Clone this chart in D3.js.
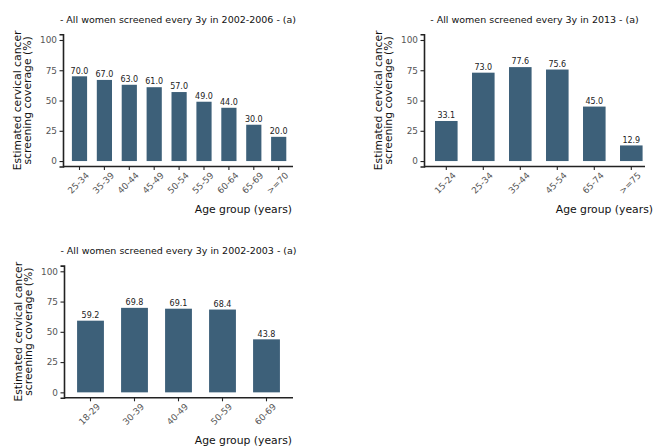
<!DOCTYPE html>
<html><head><meta charset="utf-8">
<script src="https://cdn.jsdelivr.net/npm/d3@7"></script>
<style>
body{margin:0;background:#fff;}
text{font-family:"DejaVu Sans",sans-serif;}
</style></head>
<body>
<svg id="c" width="653" height="446"></svg>
<script>
const titles = [
  "- All women screened every 3y in 2002-2006 - (a)",
  "- All women screened every 3y in 2013 - (a)",
  "- All women screened every 3y in 2002-2003 - (a)"
];
const categories1 = ["25-34","35-39","40-44","45-49","50-54","55-59","60-64","65-69",">=70"];
const values1 = [70.0,67.0,63.0,61.0,57.0,49.0,44.0,30.0,20.0];
const categories2 = ["15-24","25-34","35-44","45-54","65-74",">=75"];
const values2 = [33.1,73.0,77.6,75.6,45.0,12.9];
const categories3 = ["18-29","30-39","40-49","50-59","60-69"];
const values3 = [59.2,69.8,69.1,68.4,43.8];
const yTicks = [0,25,50,75,100];
const yLabelLines = ["Estimated cervical cancer","screening coverage (%)"];
const xLabel = "Age group (years)";

const svg = d3.select("#c");
const barColor = "#3d6079";

function panel(cfg){
  const g = svg.append("g");
  const y = d3.scaleLinear().domain([-4.5,104.7]).range([cfg.yBottom, cfg.yTop]);
  const x = d3.scaleBand().domain(cfg.cats).range(cfg.bandRange).paddingInner(0.39).paddingOuter(0.195);
  // bars
  g.selectAll("rect.bar").data(cfg.vals).enter().append("rect")
    .attr("x",(d,i)=>x(cfg.cats[i])).attr("width",x.bandwidth())
    .attr("y",d=>y(d)).attr("height",d=>y(0)-y(d)).attr("fill",barColor);
  g.selectAll("text.val").data(cfg.vals).enter().append("text")
    .attr("x",(d,i)=>x(cfg.cats[i])+x.bandwidth()/2).attr("y",d=>y(d)-2.8)
    .attr("text-anchor","middle").attr("font-size","8px").attr("fill","#222")
    .text(d=>d.toFixed(1));
  // y axis
  const ya = d3.axisLeft(y).tickValues(yTicks).tickSize(3.5).tickPadding(2.5);
  const yg = g.append("g").attr("transform",`translate(${cfg.axX0},0)`).call(ya);
  yg.select(".domain").attr("stroke","#222").attr("stroke-width",1.6);
  yg.selectAll(".tick line").attr("stroke","#222").attr("stroke-width",1.1);
  yg.selectAll(".tick text").attr("fill","#555").attr("font-size","8.9px").attr("font-family","DejaVu Sans");
  // x axis
  const xa = d3.axisBottom(x).tickSize(3.5).tickSizeOuter(0);
  const xg = g.append("g").attr("transform",`translate(0,${cfg.axY})`).call(xa);
  xg.select(".domain").attr("d",`M${cfg.axX0},0H${cfg.axX1}`).attr("stroke","#222").attr("stroke-width",1.6);
  xg.selectAll(".tick line").attr("stroke","#222").attr("stroke-width",1.1);
  xg.selectAll(".tick text").attr("fill","#555").attr("font-size","8.9px").attr("font-family","DejaVu Sans")
    .attr("text-anchor","end").attr("x",0).attr("y",0).attr("dy","0")
    .attr("transform","translate(10.3,9.5) rotate(-45)");
  // title
  g.append("text").attr("x",(cfg.axX0+cfg.axX1)/2).attr("y",cfg.titleY)
    .attr("text-anchor","middle").attr("font-size","9.5px").attr("fill","#111").text(cfg.title);
  // y label
  const cy = (cfg.yTop+cfg.yBottom)/2;
  yLabelLines.forEach((t,i)=>{
    g.append("text").attr("transform",`translate(${cfg.axX0-42+i*10},${cy}) rotate(-90)`)
      .attr("text-anchor","middle").attr("font-size","10.8px").attr("fill","#111").text(t);
  });
  // x label
  g.append("text").attr("x",cfg.xLabelX).attr("y",cfg.axY+46.5)
    .attr("text-anchor","end").attr("font-size","10.8px").attr("fill","#111").text(xLabel);
}

panel({cats:categories1, vals:values1, title:titles[0], yTop:34.3, yBottom:166.5,
  bandRange:[67.05,291.15], axX0:63, axX1:293, axY:166.5, titleY:23, xLabelX:292});
panel({cats:categories2, vals:values2, title:titles[1], yTop:34.3, yBottom:166.5,
  bandRange:[427.8,649.8], axX0:424, axX1:645, axY:166.5, titleY:23, xLabelX:653});
panel({cats:categories3, vals:values3, title:titles[2], yTop:265.6, yBottom:397.8,
  bandRange:[68.5,288.5], axX0:64, axX1:293, axY:397.8, titleY:254, xLabelX:292});
</script>
</body></html>
